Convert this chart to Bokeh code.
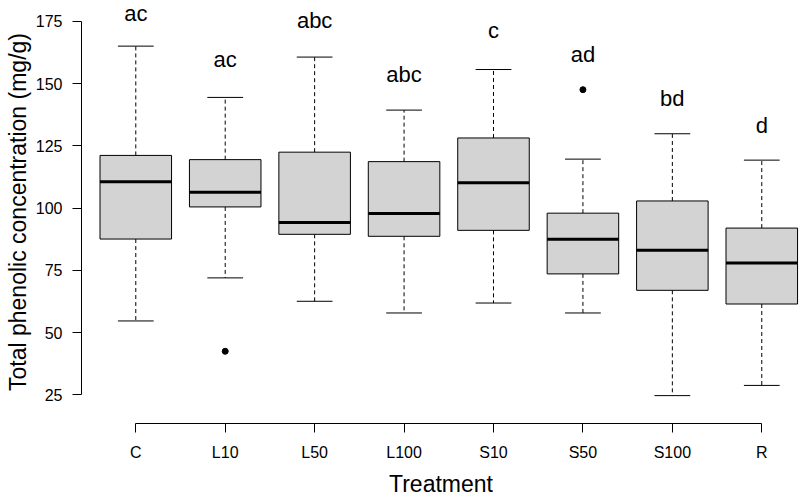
import numpy as np
from bokeh.plotting import figure
from bokeh.models import FixedTicker, ColumnDataSource, Range1d
from bokeh.core.properties import value
from bokeh.embed import file_html
from bokeh.resources import INLINE

# ---- data ----
treatments = ["C", "L10", "L50", "L100", "S10", "S50", "S100", "R"]
whisker_low = [54.7, 72.0, 62.6, 57.9, 61.9, 57.9, 24.7, 28.8]
q1 = [87.6, 100.5, 89.5, 88.7, 91.1, 73.6, 67.0, 61.5]
median = [110.6, 106.4, 94.2, 97.9, 110.2, 87.5, 83.1, 78.0]
q3 = [121.2, 119.5, 122.5, 118.7, 128.2, 98.0, 102.9, 92.0]
whisker_high = [165.1, 144.5, 160.7, 139.4, 155.7, 119.7, 129.9, 119.3]
outlier_group = ["L10", "S50"]
outlier_value = [42.5, 147.6]
letters = ["ac", "ac", "abc", "abc", "c", "ad", "bd", "d"]
letter_y = [175.3, 157.1, 172.7, 150.9, 168.5, 158.9, 141.3, 130.6]
y_ticks = [25, 50, 75, 100, 125, 150, 175]

FONT = "Liberation Sans"
BOX_W = 0.8
CAP_W = 0.4

x = np.arange(1, len(treatments) + 1, dtype=float)

src = ColumnDataSource(dict(
    x=x, lo=whisker_low, q1=q1, med=median, q3=q3, hi=whisker_high,
    bx0=x - BOX_W / 2, bx1=x + BOX_W / 2,
    cx0=x - CAP_W / 2, cx1=x + CAP_W / 2,
    lab=letters, laby=letter_y,
))
out_src = ColumnDataSource(dict(
    x=[treatments.index(g) + 1 for g in outlier_group], y=outlier_value))

p = figure(width=800, height=499,
           x_range=Range1d(0.393, 8.433), y_range=Range1d(13.5, 183.43),
           output_backend="svg", toolbar_location=None,
           min_border_left=81, min_border_right=0,
           min_border_top=0, min_border_bottom=76)
p.background_fill_color = "white"
p.border_fill_color = "white"
p.outline_line_color = None
p.xgrid.visible = False
p.ygrid.visible = False

# whiskers
p.segment(x0="x", y0="q3", x1="x", y1="hi", source=src, line_color="black",
          line_width=1, line_dash="4 3")
p.segment(x0="x", y0="q1", x1="x", y1="lo", source=src, line_color="black",
          line_width=1, line_dash="4 3")
# caps
p.segment(x0="cx0", y0="hi", x1="cx1", y1="hi", source=src, line_color="black", line_width=1)
p.segment(x0="cx0", y0="lo", x1="cx1", y1="lo", source=src, line_color="black", line_width=1)
# boxes
p.vbar(x="x", width=BOX_W, bottom="q1", top="q3", source=src,
       fill_color="#d3d3d3", line_color="black", line_width=1)
# medians
p.segment(x0="bx0", y0="med", x1="bx1", y1="med", source=src,
          line_color="black", line_width=3)
# outliers
p.scatter(x="x", y="y", source=out_src, size=6, fill_color="black", line_color="black")
# significance letters
p.text(x="x", y="laby", text="lab", source=src, text_font=value(FONT),
       text_font_size="22px", text_align="center", text_baseline="alphabetic",
       text_color="black", y_offset=-7)

# axes
for ax in (p.xaxis[0], p.yaxis[0]):
    ax.axis_line_color = "black"
    ax.axis_line_width = 1
    ax.major_tick_line_color = "black"
    ax.major_tick_in = 0
    ax.major_tick_out = 9
    ax.minor_tick_line_color = None
    ax.major_label_text_font = FONT
    ax.major_label_text_font_size = "16px"
    ax.major_label_text_color = "black"
    ax.axis_label_text_font = FONT
    ax.axis_label_text_font_size = "23px"
    ax.axis_label_text_font_style = "normal"
    ax.axis_label_text_color = "black"

p.xaxis.ticker = FixedTicker(ticks=list(x))
p.xaxis.major_label_overrides = {int(i): t for i, t in zip(x, treatments)}
p.xaxis.bounds = (1, len(treatments))
p.xaxis.major_label_standoff = 11
p.xaxis.axis_label = "Treatment"
p.xaxis.axis_label_standoff = 7

p.yaxis.ticker = FixedTicker(ticks=y_ticks)
p.yaxis.bounds = (y_ticks[0], y_ticks[-1])
p.yaxis.major_label_standoff = 10
p.yaxis.axis_label = "Total phenolic concentration (mg/g)"
p.yaxis.axis_label_standoff = 2

open("out.html", "w").write(file_html(p, INLINE))
